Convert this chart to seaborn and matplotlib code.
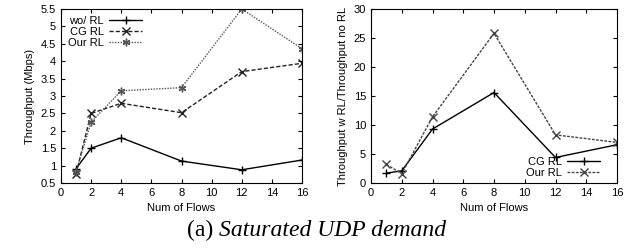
import pandas as pd
import matplotlib.pyplot as plt
import seaborn as sns

flows = [1, 2, 4, 8, 12, 16]

# left panel: throughput (Mbps)
wo_rl = [0.91, 1.5, 1.8, 1.13, 0.88, 1.16]
cg_rl = [0.77, 2.5, 2.79, 2.52, 3.7, 3.94]
our_rl = [0.82, 2.25, 3.15, 3.24, 5.5, 4.36]

# right panel: throughput ratio w RL / no RL
cg_ratio = [1.7, 2.1, 9.3, 15.6, 4.4, 6.6]
our_ratio = [3.2, 1.6, 11.4, 25.8, 8.3, 7.0]

sns.set_style('ticks')
plt.rcParams['font.family'] = ['Liberation Sans', 'DejaVu Sans']
plt.rcParams['xtick.direction'] = 'in'
plt.rcParams['ytick.direction'] = 'in'
plt.rcParams['xtick.top'] = True
plt.rcParams['ytick.right'] = True
plt.rcParams['text.color'] = 'black'
plt.rcParams['axes.labelcolor'] = 'black'
plt.rcParams['xtick.color'] = 'black'
plt.rcParams['ytick.color'] = 'black'

fig = plt.figure(figsize=(6.35, 2.5), dpi=100)
ax1 = fig.add_axes([61/635, 1 - 183/250, 241/635, 174/250])
ax2 = fig.add_axes([371/635, 1 - 183/250, 246/635, 174/250])

left = pd.DataFrame({'flows': flows, 'wo/ RL': wo_rl, 'CG RL': cg_rl, 'Our RL': our_rl})
right = pd.DataFrame({'flows': flows, 'CG RL': cg_ratio, 'Our RL': our_ratio})


def draw(ax, df, col, color, marker, ls):
    # seaborn paints marker edges white by default, so set them explicitly
    sns.lineplot(data=df, x='flows', y=col, ax=ax, color=color, marker=marker,
                 linestyle=ls, label=col, linewidth=1.0, markersize=5.5,
                 markeredgewidth=1.0, markeredgecolor=color, markerfacecolor=color)


draw(ax1, left, 'wo/ RL', 'black', '+', '-')
draw(ax1, left, 'CG RL', '#222222', 'x', (0, (3, 1.5)))
draw(ax1, left, 'Our RL', '#555555', (6, 2, 0), (0, (1, 1)))

draw(ax2, right, 'CG RL', 'black', '+', '-')
draw(ax2, right, 'Our RL', '#444444', 'x', (0, (2, 1)))

ax1.set_xlim(0, 16)
ax1.set_ylim(0.5, 5.5)
ax1.set_xticks(range(0, 17, 2))
ax1.set_yticks([0.5, 1, 1.5, 2, 2.5, 3, 3.5, 4, 4.5, 5, 5.5])
ax1.set_yticklabels(['0.5', '1', '1.5', '2', '2.5', '3', '3.5', '4', '4.5', '5', '5.5'])
ax1.set_xlabel('Num of Flows', fontsize=8)
ax1.set_ylabel('Throughput (Mbps)', fontsize=8)

ax2.set_xlim(0, 16)
ax2.set_ylim(0, 30)
ax2.set_xticks(range(0, 17, 2))
ax2.set_yticks(range(0, 31, 5))
ax2.set_xlabel('Num of Flows', fontsize=8)
ax2.set_ylabel('Throughput w RL/Throughput no RL', fontsize=8)

for ax in (ax1, ax2):
    ax.tick_params(labelsize=8, length=3, width=0.8)
    for s in ax.spines.values():
        s.set_linewidth(0.8)
        s.set_color('black')

ax1.legend(loc='upper left', markerfirst=False, frameon=False, fontsize=8,
           handlelength=3, labelspacing=0.1, borderaxespad=0.2, handletextpad=0.5)
ax2.legend(loc='lower right', bbox_to_anchor=(0.96, -0.01), markerfirst=False,
           frameon=False, fontsize=8, handlelength=3, labelspacing=0.1,
           borderaxespad=0.2, handletextpad=0.5)

cap_y = 1 - 230/250
fig.text(213/635, cap_y, '(a)', ha='right', va='center', fontsize=17,
         family='Liberation Serif')
fig.text(219/635, cap_y, 'Saturated UDP demand', ha='left', va='center', fontsize=17,
         family='Liberation Serif', style='italic')

fig.savefig('out.png', dpi=100)
